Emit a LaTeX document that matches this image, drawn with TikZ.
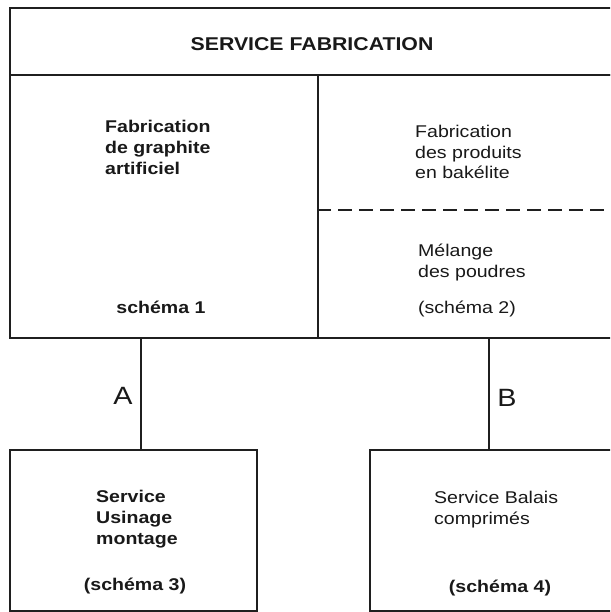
\documentclass[tikz,border=0pt]{standalone}
\usepackage{fontspec}
\setmainfont{Liberation Sans}[FakeStretch=1.15]
\begin{document}
\begin{tikzpicture}[x=1pt,y=-1pt,
  frame/.style={draw=black!88,line width=1.9pt,rectangle,inner sep=0pt,anchor=north west},
  link/.style={draw=black!88,line width=1.9pt},
  sep/.style={draw=black!88,line width=1.7pt,dash pattern=on 14pt off 7pt},
  txtb/.style={inner sep=0pt,text=black!90,font=\fontsize{17}{21}\selectfont\bfseries,align=left},
  txtr/.style={inner sep=0pt,text=black!90,font=\fontsize{17}{20.5}\selectfont,align=left},
  lettre/.style={inner sep=0pt,text=black!90,font=\fontsize{25}{28}\selectfont}]
\useasboundingbox (0,0) rectangle (610,612);
\clip (0,0) rectangle (610,612);
\fill[white] (0,0) rectangle (610,612);

% boxes of the organisation chart
\node[frame,minimum width=640pt,minimum height=67pt] (top) at (9,7) {};
\node[frame,minimum width=308pt,minimum height=263pt] (fab1) at (9,74) {};
\node[frame,minimum width=330pt,minimum height=263pt] (fab2) at (317,74) {};
\node[frame,minimum width=247pt,minimum height=161pt] (usin) at (9,449) {};
\node[frame,minimum width=280pt,minimum height=161pt] (bal) at (369,449) {};

% dashed split inside the right workshop box
\coordinate (dsplit) at (0,210);
\draw[sep] (fab2.west |- dsplit) -- (fab2.east |- dsplit);

% links A and B
\coordinate (xa) at (141,0);
\coordinate (xb) at (489,0);
\draw[link] (fab1.south -| xa) -- (usin.north -| xa);
\draw[link] (fab2.south -| xb) -- (bal.north -| xb);

% texts (multi-line nodes are anchored on the baseline of their last line)
\node[txtb,font=\fontsize{18.5}{21}\selectfont\bfseries,anchor=base] (ttop) at (312,51) {SERVICE FABRICATION};
\node[txtb,anchor=base west] (t1) at (105,175) {Fabrication\\de graphite\\artificiel};
\node[txtb,anchor=base] (s1) at (161,313) {schéma 1};
\node[txtr,anchor=base west] (t2) at (415,179) {Fabrication\\des produits\\en bakélite};
\node[txtr,anchor=base west] (t3) at (418,277) {Mélange\\des poudres};
\node[txtr,anchor=base] (s2) at (467,313) {(schéma 2)};
\node[lettre,anchor=base] (la) at (123,404) {A};
\node[lettre,anchor=base] (lb) at (507,406) {B};
\node[txtb,anchor=base west] (t4) at (96,544) {Service\\Usinage\\montage};
\node[txtb,anchor=base] (s3) at (135,590) {(schéma 3)};
\node[txtr,anchor=base west] (t5) at (434,524) {Service Balais\\comprimés};
\node[txtb,anchor=base] (s4) at (500,592) {(schéma 4)};
\end{tikzpicture}
\end{document}
